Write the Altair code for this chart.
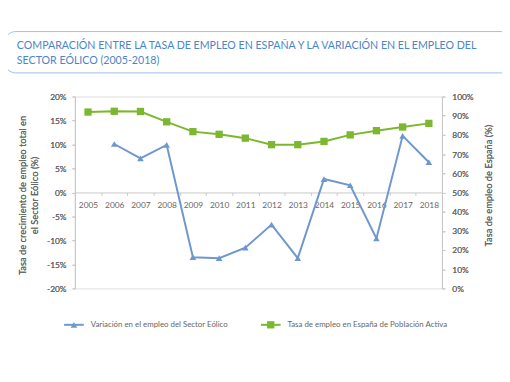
import altair as alt
import pandas as pd
import numpy as np

years = [str(y) for y in range(2005, 2019)]
eolico = [np.nan, 10.1, 7.1, 9.9, -13.5, -13.7, -11.5, -6.7, -13.7, 2.8, 1.5, -9.6, 11.8, 6.3]
tasa = [91.9, 92.3, 92.2, 86.8, 81.7, 80.3, 78.3, 74.9, 74.9, 76.6, 80.0, 82.2, 84.1, 86.0]
serie_eol = "Variación en el empleo del Sector Eólico"
serie_tasa = "Tasa de empleo en España de Población Activa"
title_lines = ["COMPARACIÓN ENTRE LA TASA DE EMPLEO EN ESPAÑA Y LA VARIACIÓN EN EL EMPLEO DEL",
               "SECTOR EÓLICO (2005-2018)"]
left_ticks = [-20, -15, -10, -5, 0, 5, 10, 15, 20]
right_ticks = [0, 10, 20, 30, 40, 50, 60, 70, 80, 90, 100]

BLUE = "#6f97cf"
GREEN = "#7cb82f"
GREY = "#c8c8c8"
TXT = "#666666"
FONT = "Lato"

df = pd.DataFrame({"year": years, "eolico": eolico, "tasa": tasa})
one = pd.DataFrame({"k": [0]})

xenc = alt.X("year:O", scale=alt.Scale(type="band", paddingInner=0, paddingOuter=0),
             axis=alt.Axis(title=None, orient="bottom", offset=-97.5, labelAngle=0,
                           domainColor=GREY, tickColor=GREY, tickSize=3, tickBand="extent",
                           labelPadding=5, labelFontSize=8.5, labelColor=TXT, labelFont=FONT))

yl = alt.Y("eolico:Q", scale=alt.Scale(domain=[-20, 20], nice=False),
           axis=alt.Axis(orient="left", values=left_ticks, labelExpr="datum.value + '%'",
                         grid=False, domainColor=GREY, tickColor=GREY, tickSize=3,
                         labelPadding=6, labelFontSize=8.5, labelColor=TXT, labelFont=FONT,
                         title=["Tasa  de crecimiento de empleo total en", "el Sector Eólico (%)"],
                         titleFontSize=9.5, titleFontWeight="normal", titleColor=TXT, titleFont=FONT,
                         titleAngle=270, titleAlign="center", titleBaseline="middle",
                         titleX=-53, titleY=100))

yr = alt.Y("tasa:Q", scale=alt.Scale(domain=[0, 100], nice=False),
           axis=alt.Axis(orient="right", values=right_ticks, labelExpr="datum.value + '%'",
                         grid=False, domainColor=GREY, tickColor=GREY, tickSize=3,
                         labelPadding=7, labelFontSize=8.5, labelColor=TXT, labelFont=FONT,
                         title="Tasa de empleo de España (%)",
                         titleFontSize=9.5, titleFontWeight="normal", titleColor=TXT, titleFont=FONT,
                         titleAngle=270, titleAlign="center", titleBaseline="middle",
                         titleX=47, titleY=90))

base = alt.Chart(df)
blue_line = base.mark_line(color=BLUE, strokeWidth=2).encode(x=xenc, y=yl)
blue_pts = base.mark_point(shape="triangle-up", filled=True, color=BLUE, size=45, opacity=1).encode(x=xenc, y=yl)
green_line = base.mark_line(color=GREEN, strokeWidth=2).encode(x=xenc, y=yr)
green_pts = base.mark_point(shape="square", filled=True, color=GREEN, size=55, opacity=1).encode(x=xenc, y=yr)

deco = alt.Chart(one)
box = deco.mark_rect(fill="white", stroke="#9dc0e6", strokeWidth=1,
                     cornerRadiusTopLeft=12, cornerRadiusBottomLeft=12).encode(
    x=alt.value(-72), x2=alt.value(470), y=alt.value(-66), y2=alt.value(-24))
t1 = deco.mark_text(align="left", baseline="middle", font=FONT, fontSize=10.8, color="#4a86c8").encode(
    x=alt.value(-59), y=alt.value(-51), text=alt.value(title_lines[0]))
t2 = deco.mark_text(align="left", baseline="middle", font=FONT, fontSize=10.8, color="#4a86c8").encode(
    x=alt.value(-59), y=alt.value(-36.5), text=alt.value(title_lines[1]))

lg_y = 232
lg1_rule = deco.mark_rule(color=BLUE, strokeWidth=2).encode(x=alt.value(-11), x2=alt.value(9), y=alt.value(lg_y))
lg1_pt = deco.mark_point(shape="triangle-up", filled=True, color=BLUE, size=45, opacity=1).encode(
    x=alt.value(-1), y=alt.value(lg_y))
lg1_txt = deco.mark_text(align="left", baseline="middle", font=FONT, fontSize=8, color=TXT).encode(
    x=alt.value(16), y=alt.value(lg_y), text=alt.value(serie_eol))
lg2_rule = deco.mark_rule(color=GREEN, strokeWidth=2).encode(x=alt.value(189), x2=alt.value(209), y=alt.value(lg_y))
lg2_pt = deco.mark_point(shape="square", filled=True, color=GREEN, size=55, opacity=1).encode(
    x=alt.value(199), y=alt.value(lg_y))
lg2_txt = deco.mark_text(align="left", baseline="middle", font=FONT, fontSize=8, color=TXT).encode(
    x=alt.value(216), y=alt.value(lg_y), text=alt.value(serie_tasa))

chart = alt.layer(
    box, t1, t2,
    blue_line, blue_pts,
    green_line, green_pts,
    lg1_rule, lg1_pt, lg1_txt, lg2_rule, lg2_pt, lg2_txt,
).resolve_scale(y="independent").properties(
    width=373, height=195,
    autosize=alt.AutoSizeParams(type="none"),
    padding={"left": 68, "top": 87, "right": 61, "bottom": 82},
).configure_view(stroke=None).configure(background="white")

chart.save("out.html", embed_options={"renderer": "svg", "actions": False})
